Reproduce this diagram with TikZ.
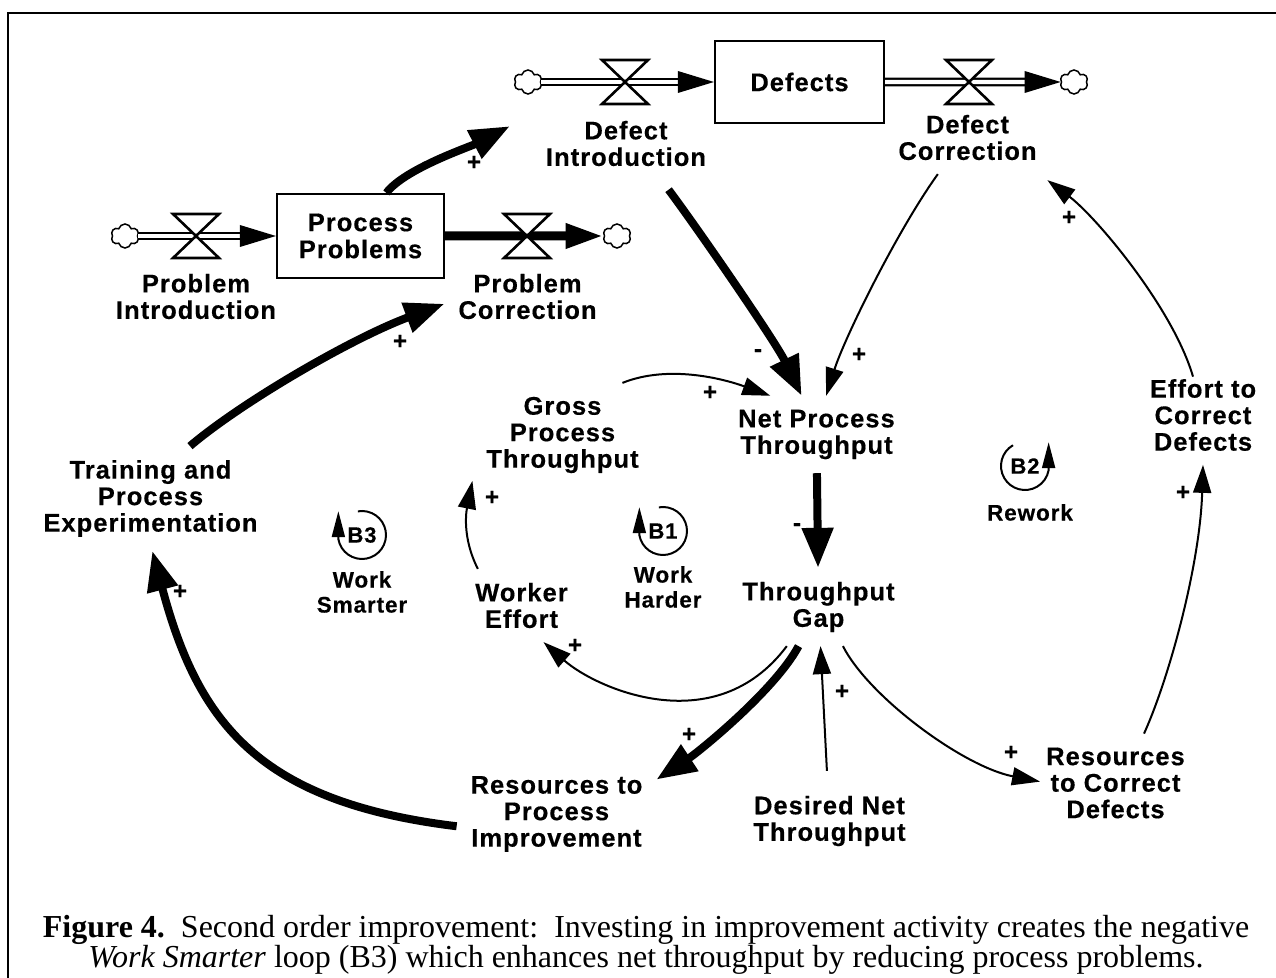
\documentclass[tikz,border=0pt]{standalone}
\usepackage{fontspec}
\setmainfont{Liberation Serif}
\newfontfamily\diafont{Liberation Sans}[LetterSpace=4, BoldFeatures={FakeBold=0.4}]
\usetikzlibrary{arrows.meta,shapes.symbols}
\newlength{\du}
\setlength{\du}{0.5pt}
\tikzset{
  var/.style={font=\diafont\bfseries\fontsize{12.75pt}{13.25pt}\selectfont, align=center, inner sep=0pt, outer sep=7pt},
  stock/.style={draw, line width=1.1pt, inner sep=0pt, align=center, font=\diafont\bfseries\fontsize{12.75pt}{13.5pt}\selectfont},
  valve/.style={inner sep=0pt, outer sep=0pt, minimum width=46\du, minimum height=44\du},
  hourglass/.style={draw, fill=white, line width=1.3pt},
  puff/.style={cloud, cloud puffs=6, cloud puff arc=150, aspect=1.1, draw, fill=white, line width=0.75pt, inner sep=0pt, minimum width=28\du, minimum height=24\du},
  pipe/.style={double, line width=1.1pt, double distance=2.2pt},
  pipehead/.style={fill=black},
  thickpipe/.style={line width=4.5pt, -{Triangle[length=19pt,width=11.5pt]}},
  link/.style={line width=1pt, -{Triangle[length=14pt,width=9pt]}},
  thicklink/.style={line width=4pt, -{Triangle[length=20pt,width=15pt]}},
  sign/.style={font=\diafont\bfseries\fontsize{12pt}{12pt}\selectfont, inner sep=0pt},
  loopid/.style={font=\diafont\bfseries\fontsize{11pt}{11pt}\selectfont, inner sep=0pt},
  looplbl/.style={font=\diafont\bfseries\fontsize{11.25pt}{12.5pt}\selectfont, align=center, inner sep=0pt},
  looparc/.style={line width=1pt, -{Triangle[length=13pt,width=6.5pt]}},
  caption/.style={font=\fontsize{16pt}{15.25pt}\selectfont, align=center, inner sep=0pt}
}
\begin{document}
\begin{tikzpicture}
\useasboundingbox (0,0) rectangle (1276\du,-978\du);
% frame
\draw[line width=1.2pt] (8\du,-978\du) -- (8\du,-13\du) -- (1276\du,-13\du);
% stocks
\node[stock, minimum width=167\du, minimum height=84\du] (procprob) at (360.5\du,-236\du) {Process\\Problems};
\node[stock, minimum width=169\du, minimum height=82\du] (defects) at (799.5\du,-82\du) {Defects};
% clouds
\node[puff] (srcprob) at (125\du,-236\du) {};
\node[puff] (sinkprob) at (617\du,-236\du) {};
\node[puff] (srcdef) at (528\du,-82\du) {};
\node[puff] (sinkdef) at (1074\du,-82\du) {};
% flows
\draw[pipe, shorten >=20\du] (srcprob) -- (procprob.west);
\fill[pipehead] (procprob.west) -- ++(-36\du,11\du) -- ++(0,-22\du) -- cycle;
\draw[thickpipe] (procprob.east) -- (sinkprob);
\draw[pipe, shorten >=20\du] (srcdef) -- (defects.west);
\fill[pipehead] (defects.west) -- ++(-36\du,11\du) -- ++(0,-22\du) -- cycle;
\draw[pipe, shorten >=20\du] (defects.east) -- (sinkdef);
\fill[pipehead] (sinkdef.west) -- ++(-36\du,11\du) -- ++(0,-22\du) -- cycle;
% valves
\node[valve] (vprobin) at (196\du,-236\du) {};
\filldraw[hourglass] (vprobin.north west) -- (vprobin.north east) -- (vprobin.south west) -- (vprobin.south east) -- cycle;
\node[valve] (vprobout) at (527\du,-236\du) {};
\filldraw[hourglass] (vprobout.north west) -- (vprobout.north east) -- (vprobout.south west) -- (vprobout.south east) -- cycle;
\node[valve] (vdefin) at (625\du,-82\du) {};
\filldraw[hourglass] (vdefin.north west) -- (vdefin.north east) -- (vdefin.south west) -- (vdefin.south east) -- cycle;
\node[valve] (vdefout) at (969\du,-82\du) {};
\filldraw[hourglass] (vdefout.north west) -- (vdefout.north east) -- (vdefout.south west) -- (vdefout.south east) -- cycle;
% flow names
\node[var] (probintro) at (196\du,-296.5\du) {Problem\\Introduction};
\node[var] (probcorr) at (527.5\du,-296.5\du) {Problem\\Correction};
\node[var] (defintro) at (626\du,-143.5\du) {Defect\\Introduction};
\node[var] (defcorr) at (967.5\du,-137.5\du) {Defect\\Correction};
% auxiliaries
\node[var] (gross) at (562.5\du,-435\du) {Gross\\Process\\Throughput};
\node[var] (netthru) at (816.5\du,-434.5\du) {Net Process\\Throughput};
\node[var] (gap) at (818.5\du,-607\du) {Throughput\\Gap};
\node[var] (effort) at (521.5\du,-605.5\du) {Worker\\Effort};
\node[var] (training) at (150.5\du,-498.5\du) {Training and\\Process\\Experimentation};
\node[var] (resimpr) at (556.5\du,-814\du) {Resources to\\Process\\Improvement};
\node[var] (desired) at (829.5\du,-821\du) {Desired Net\\Throughput};
\node[var] (rescorr) at (1115.5\du,-783\du) {Resources\\to Correct\\Defects};
\node[var] (effcorr) at (1203\du,-415\du) {Effort to\\Correct\\Defects};
% links
\draw[thicklink, shorten >=25\du] (procprob.59) .. controls +(18\du,24\du) and +(-62\du,-32\du) .. (defintro.163);
\draw[thicklink, shorten <=12\du] (defintro.-46) .. controls +(36\du,-48\du) and +(-26\du,54\du) .. (netthru.111);
\draw[link] (defcorr.-129) .. controls +(-41\du,-57\du) and +(18\du,57\du) .. (netthru.76);
\draw[link, shorten <=-12\du, shorten >=10\du] (effcorr.105) .. controls +(-17\du,58\du) and +(56\du,-42\du) .. (defcorr.-27);
\draw[link] (gross.41) .. controls +(46\du,18.5\du) and +(-47\du,17\du) .. (netthru.140);
\draw[thicklink] (netthru) -- (gap);
\draw[link] (effort.140) .. controls +(-16\du,31.5\du) and +(-6\du,-30\du) .. (gross.-153);
\draw[link] (gap.-129) .. controls +(-72\du,-96\du) and +(52\du,-46\du) .. (effort.-59);
\draw[thicklink] (gap.-117) .. controls +(-23.5\du,-44\du) and +(42\du,27.5\du) .. (resimpr.19);
\draw[link, shorten <=11\du] (desired) -- (gap);
\draw[link, shorten >=-8\du] (gap.-58) .. controls +(25.5\du,-50.4\du) and +(-69\du,13.4\du) .. (rescorr.178);
\draw[link] (rescorr.60) .. controls +(25\du,55\du) and +(-3\du,-100\du) .. (effcorr.south);
\draw[thicklink] (resimpr.-173) .. controls +(-197\du,24\du) and +(46\du,-173\du) .. (training.-88);
\draw[thicklink] (training.53) .. controls +(50.5\du,43\du) and +(-94\du,-35\du) .. (probcorr.-175);
% polarities
\node[sign] (sgn1) at (474\du,-163\du) {+};
\node[sign] (sgn2) at (758\du,-353\du) {-};
\node[sign] (sgn3) at (859\du,-355\du) {+};
\node[sign] (sgn4) at (1069\du,-218\du) {+};
\node[sign] (sgn5) at (710\du,-393\du) {+};
\node[sign] (sgn6) at (797\du,-527\du) {-};
\node[sign] (sgn7) at (492\du,-498\du) {+};
\node[sign] (sgn8) at (575\du,-646\du) {+};
\node[sign] (sgn9) at (689\du,-735\du) {+};
\node[sign] (sgn10) at (842\du,-692\du) {+};
\node[sign] (sgn11) at (1011\du,-753\du) {+};
\node[sign] (sgn12) at (1183\du,-493\du) {+};
\node[sign] (sgn13) at (180\du,-592\du) {+};
\node[sign] (sgn14) at (400\du,-342\du) {+};
% loops
\node[loopid] (bthree) at (362\du,-535\du) {B3};
\draw[looparc] (bthree) ++(100:24\du) arc[start angle=100, end angle=-170, radius=24\du] -- ++(0,28\du);
\node[looplbl] (lsmarter) at (362\du,-592\du) {Work\\Smarter};
\node[loopid] (bone) at (663\du,-531\du) {B1};
\draw[looparc] (bone) ++(100:24\du) arc[start angle=100, end angle=-170, radius=24\du] -- ++(0,28\du);
\node[looplbl] (lharder) at (663\du,-587\du) {Work\\Harder};
\node[loopid] (btwo) at (1025\du,-466\du) {B2};
\draw[looparc] (btwo) ++(120:24\du) arc[start angle=120, end angle=350, radius=24\du] -- ++(0,28\du);
\node[looplbl] (lrework) at (1030\du,-512.5\du) {Rework};
% caption
\node[caption] (figcap) at (646\du,-945\du) {\textbf{Figure 4.}\ \ Second order improvement:\ \ Investing in improvement activity creates the negative\\\textit{Work Smarter} loop (B3) which enhances net throughput by reducing process problems.};
\end{tikzpicture}
\end{document}
